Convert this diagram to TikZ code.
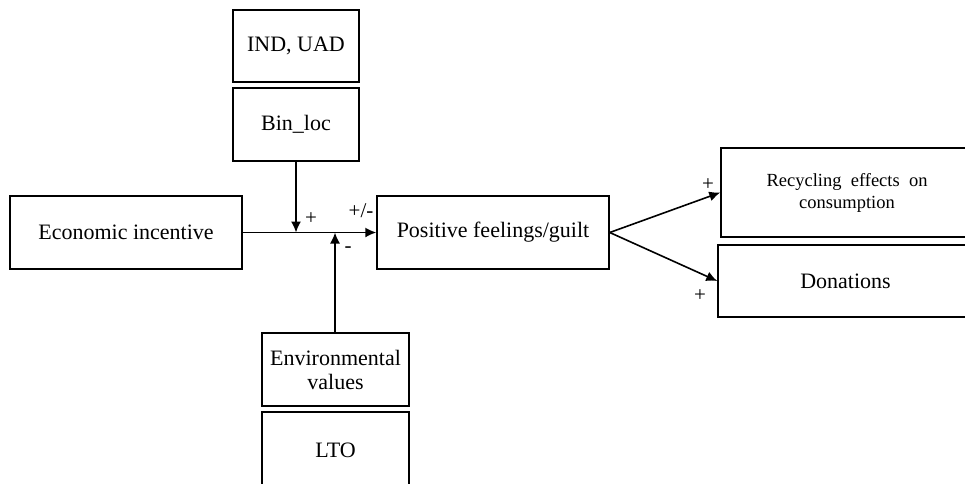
\documentclass[tikz,border=0pt]{standalone}
\usepackage{fontspec}
\setmainfont{Liberation Serif}
\usetikzlibrary{arrows.meta}
\begin{document}
\begin{tikzpicture}[x=1pt,y=-1pt,
  box/.style={draw,line width=1.5pt,rectangle,inner sep=0pt,align=center,font=\fontsize{22}{24}\selectfont},
  conn/.style={line width=1.6pt,-{Latex[length=11pt,width=10pt]}},
  sign/.style={font=\fontsize{21}{24}\selectfont,inner sep=0pt}]
\useasboundingbox (0,0) rectangle (965,483);
\clip (0,0) rectangle (965,483);
\fill[white] (0,0) rectangle (965,483);
\node[box,minimum width=126pt,minimum height=72pt] (ind) at (296,46) {IND, UAD};
\node[box,minimum width=126pt,minimum height=73pt] (bin) at (296,124.5) {Bin\_loc};
\node[box,minimum width=232pt,minimum height=73pt] (econ) at (126,232.5) {Economic incentive};
\node[box,minimum width=232pt,minimum height=73pt] (pos) at (493,232.5) {Positive feelings/guilt};
\node[box,minimum width=147pt,minimum height=73pt] (env) at (335.5,369.5) {Environmental\\values};
\node[box,minimum width=147pt,minimum height=76pt] (lto) at (335.5,450) {LTO};
\node[box,minimum width=252pt,minimum height=89pt,font=\fontsize{18.5}{22}\selectfont] (rec) at (847,192.5) {Recycling\ \ effects\ \ on\\consumption};
\node[box,minimum width=255pt,minimum height=72pt] (don) at (845.5,281) {Donations};
\coordinate (j1) at (296,232.5);
\coordinate (j2) at (335,232.5);
\draw[conn] (econ.east) -- (pos.west);
\draw[conn] (bin.south) -- (j1);
\draw[conn] (env.north -| j2) -- (j2);
\draw[conn] (pos.east) -- (rec.west);
\draw[conn] (pos.east) -- (don.west);
\node[sign] (s1) at (311,219) {+};
\node[sign] (s2) at (361,211) {+/-};
\node[sign] (s3) at (348,250) {-};
\node[sign] (s4) at (708,185) {+};
\node[sign] (s5) at (700,296) {+};
\end{tikzpicture}
\end{document}
